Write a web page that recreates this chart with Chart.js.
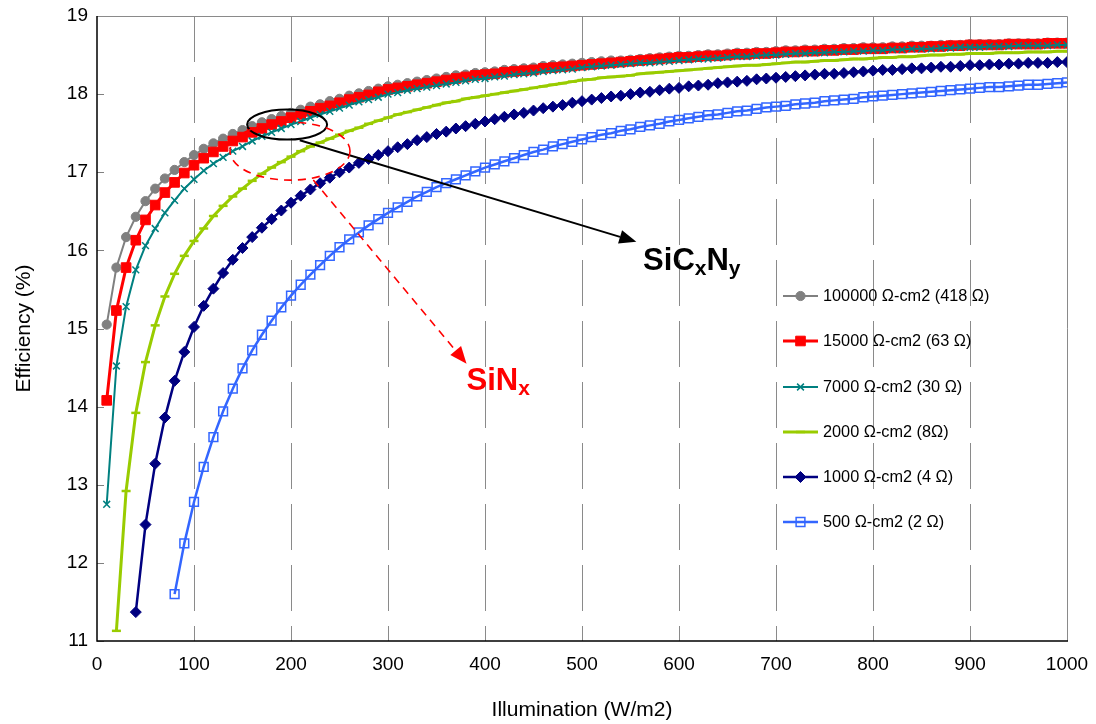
<!DOCTYPE html>
<html>
<head>
<meta charset="utf-8">
<script src="https://cdn.jsdelivr.net/npm/chart.js@4.4.1/dist/chart.umd.min.js"></script>
<style>
  html, body { margin: 0; padding: 0; background: #fff; }
  #wrap { width: 1096px; height: 724px; position: relative; }
</style>
</head>
<body>
<div id="wrap"><canvas id="effChart"></canvas></div>
<script>
// Illumination (W/m2) at which each point is given
const illumination = [
  10, 20, 30, 40, 50, 60, 70, 80, 90, 100,
  110, 120, 130, 140, 150, 160, 170, 180, 190, 200,
  210, 220, 230, 240, 250, 260, 270, 280, 290, 300,
  310, 320, 330, 340, 350, 360, 370, 380, 390, 400,
  410, 420, 430, 440, 450, 460, 470, 480, 490, 500,
  510, 520, 530, 540, 550, 560, 570, 580, 590, 600,
  610, 620, 630, 640, 650, 660, 670, 680, 690, 700,
  710, 720, 730, 740, 750, 760, 770, 780, 790, 800,
  810, 820, 830, 840, 850, 860, 870, 880, 890, 900,
  910, 920, 930, 940, 950, 960, 970, 980, 990, 1000
];

const xTicks = [0, 100, 200, 300, 400, 500, 600, 700, 800, 900, 1000];
const yTicks = [11, 12, 13, 14, 15, 16, 17, 18, 19];

const seriesNames = [
  '100000 \u03A9-cm2 (418 \u03A9)',
  '15000 \u03A9-cm2 (63 \u03A9)',
  '7000 \u03A9-cm2 (30 \u03A9)',
  '2000 \u03A9-cm2 (8\u03A9)',
  '1000 \u03A9-cm2 (4 \u03A9)',
  '500 \u03A9-cm2 (2 \u03A9)'
];

// efficiency (%) - each series ends at 1000 W/m2
const eff100000 = [
  15.05, 15.78, 16.17, 16.43, 16.63, 16.79, 16.92, 17.03, 17.13, 17.22,
  17.30, 17.37, 17.43, 17.49, 17.54, 17.59, 17.64, 17.68, 17.72, 17.76,
  17.80, 17.84, 17.87, 17.91, 17.94, 17.98, 18.01, 18.04, 18.07, 18.10,
  18.12, 18.14, 18.16, 18.18, 18.20, 18.22, 18.24, 18.25, 18.27, 18.28,
  18.29, 18.31, 18.32, 18.33, 18.34, 18.36, 18.37, 18.38, 18.39, 18.40,
  18.41, 18.42, 18.43, 18.43, 18.44, 18.45, 18.46, 18.47, 18.48, 18.49,
  18.49, 18.50, 18.51, 18.51, 18.52, 18.53, 18.53, 18.54, 18.54, 18.55,
  18.56, 18.56, 18.57, 18.57, 18.58, 18.58, 18.59, 18.59, 18.60, 18.60,
  18.60, 18.61, 18.61, 18.62, 18.62, 18.62, 18.63, 18.63, 18.63, 18.64,
  18.64, 18.64, 18.64, 18.65, 18.65, 18.65, 18.65, 18.66, 18.66, 18.66
];
const eff15000 = [
  14.08, 15.23, 15.78, 16.13, 16.39, 16.58, 16.74, 16.87, 16.99, 17.09,
  17.18, 17.26, 17.33, 17.40, 17.45, 17.51, 17.56, 17.61, 17.65, 17.70,
  17.74, 17.78, 17.82, 17.85, 17.89, 17.93, 17.96, 17.99, 18.03, 18.06,
  18.08, 18.10, 18.12, 18.14, 18.16, 18.18, 18.20, 18.22, 18.24, 18.25,
  18.26, 18.28, 18.29, 18.30, 18.31, 18.33, 18.34, 18.35, 18.36, 18.37,
  18.38, 18.39, 18.40, 18.41, 18.42, 18.43, 18.44, 18.45, 18.46, 18.47,
  18.47, 18.48, 18.49, 18.49, 18.50, 18.51, 18.51, 18.52, 18.52, 18.53,
  18.54, 18.54, 18.55, 18.55, 18.56, 18.56, 18.57, 18.57, 18.58, 18.58,
  18.58, 18.59, 18.59, 18.60, 18.60, 18.61, 18.61, 18.62, 18.62, 18.63,
  18.63, 18.63, 18.63, 18.64, 18.64, 18.64, 18.64, 18.65, 18.65, 18.65
];
const eff7000 = [
  12.75, 14.52, 15.28, 15.75, 16.06, 16.28, 16.48, 16.64, 16.79, 16.91,
  17.02, 17.11, 17.19, 17.27, 17.33, 17.40, 17.46, 17.51, 17.56, 17.61,
  17.65, 17.70, 17.74, 17.78, 17.82, 17.86, 17.90, 17.93, 17.96, 18.00,
  18.02, 18.05, 18.07, 18.09, 18.11, 18.13, 18.15, 18.17, 18.19, 18.20,
  18.22, 18.23, 18.25, 18.26, 18.27, 18.29, 18.30, 18.31, 18.32, 18.34,
  18.35, 18.36, 18.37, 18.38, 18.39, 18.40, 18.40, 18.41, 18.42, 18.43,
  18.44, 18.45, 18.45, 18.46, 18.47, 18.48, 18.48, 18.49, 18.50, 18.50,
  18.51, 18.52, 18.52, 18.53, 18.53, 18.54, 18.54, 18.55, 18.55, 18.56,
  18.56, 18.57, 18.57, 18.58, 18.58, 18.58, 18.59, 18.59, 18.60, 18.60,
  18.60, 18.61, 18.61, 18.61, 18.62, 18.62, 18.62, 18.62, 18.63, 18.63
];
// starts at 20 W/m2
const eff2000 = [
         11.13, 12.92, 13.92, 14.57, 15.04, 15.41, 15.70, 15.93, 16.12,
  16.28, 16.44, 16.57, 16.69, 16.79, 16.89, 16.98, 17.06, 17.13, 17.20,
  17.27, 17.33, 17.38, 17.43, 17.48, 17.53, 17.57, 17.62, 17.66, 17.70,
  17.74, 17.77, 17.80, 17.83, 17.86, 17.89, 17.91, 17.94, 17.96, 17.98,
  18.00, 18.02, 18.04, 18.06, 18.08, 18.10, 18.12, 18.14, 18.16, 18.18,
  18.19, 18.21, 18.22, 18.23, 18.24, 18.26, 18.27, 18.28, 18.29, 18.30,
  18.31, 18.32, 18.33, 18.34, 18.35, 18.36, 18.37, 18.37, 18.38, 18.39,
  18.40, 18.41, 18.41, 18.42, 18.43, 18.43, 18.44, 18.45, 18.45, 18.46,
  18.47, 18.47, 18.48, 18.48, 18.49, 18.50, 18.50, 18.51, 18.51, 18.52,
  18.52, 18.52, 18.53, 18.53, 18.53, 18.54, 18.54, 18.54, 18.55, 18.55
];
// starts at 40 W/m2
const eff1000 = [
                       11.37, 12.49, 13.27, 13.86, 14.33, 14.70, 15.02,
  15.29, 15.51, 15.71, 15.88, 16.03, 16.17, 16.29, 16.40, 16.51, 16.61,
  16.70, 16.78, 16.86, 16.93, 17.00, 17.06, 17.12, 17.17, 17.22, 17.27,
  17.32, 17.36, 17.41, 17.45, 17.49, 17.52, 17.56, 17.59, 17.62, 17.65,
  17.68, 17.71, 17.74, 17.76, 17.79, 17.82, 17.84, 17.86, 17.89, 17.91,
  17.93, 17.95, 17.97, 17.98, 18.00, 18.02, 18.03, 18.05, 18.07, 18.08,
  18.10, 18.11, 18.12, 18.14, 18.15, 18.16, 18.17, 18.19, 18.20, 18.21,
  18.22, 18.23, 18.24, 18.25, 18.26, 18.26, 18.27, 18.28, 18.29, 18.30,
  18.31, 18.31, 18.32, 18.33, 18.33, 18.34, 18.35, 18.35, 18.36, 18.37,
  18.37, 18.38, 18.38, 18.39, 18.39, 18.40, 18.40, 18.40, 18.41, 18.41
];
// starts at 80 W/m2
const eff500 = [
                                                   11.60, 12.25, 12.78,
  13.23, 13.61, 13.94, 14.23, 14.49, 14.72, 14.92, 15.10, 15.27, 15.42,
  15.56, 15.69, 15.81, 15.93, 16.04, 16.14, 16.23, 16.32, 16.40, 16.48,
  16.55, 16.62, 16.69, 16.75, 16.81, 16.86, 16.91, 16.96, 17.01, 17.06,
  17.10, 17.14, 17.18, 17.22, 17.26, 17.29, 17.33, 17.36, 17.39, 17.42,
  17.45, 17.48, 17.50, 17.53, 17.55, 17.58, 17.60, 17.62, 17.65, 17.67,
  17.69, 17.71, 17.73, 17.74, 17.76, 17.78, 17.79, 17.81, 17.83, 17.84,
  17.85, 17.87, 17.88, 17.89, 17.91, 17.92, 17.93, 17.94, 17.96, 17.97,
  17.98, 17.99, 18.00, 18.01, 18.02, 18.03, 18.04, 18.05, 18.06, 18.07,
  18.08, 18.09, 18.09, 18.10, 18.11, 18.12, 18.12, 18.13, 18.14, 18.15
];

const FONT = '"Liberation Sans", Arial, sans-serif';

// pair values with illumination, aligned at the right end
function toPoints(values) {
  const off = illumination.length - values.length;
  return values.map((v, i) => ({ x: illumination[off + i], y: v }));
}

const styles = [
  { color: '#808080', fill: '#808080', pointStyle: 'circle',   radius: 4.6, lineWidth: 2,   pointBorder: 1 },
  { color: '#FF0000', fill: '#FF0000', pointStyle: 'rect',     radius: 6.8, lineWidth: 3,   pointBorder: 1 },
  { color: '#008080', fill: '#008080', pointStyle: 'crossRot', radius: 4.8, lineWidth: 2,   pointBorder: 1.5 },
  { color: '#99CC00', fill: '#99CC00', pointStyle: 'line',     radius: 4.5, lineWidth: 3,   pointBorder: 2.5 },
  { color: '#000080', fill: '#000080', pointStyle: 'rectRot',  radius: 5.5, lineWidth: 2.5, pointBorder: 1 },
  { color: '#3366FF', fill: 'rgba(0,0,0,0)', pointStyle: 'rect', radius: 6.2, lineWidth: 2.5, pointBorder: 1.5 }
];
const seriesValues = [eff100000, eff15000, eff7000, eff2000, eff1000, eff500];

const datasets = seriesValues.map((vals, i) => ({
  label: seriesNames[i],
  data: toPoints(vals),
  borderColor: styles[i].color,
  backgroundColor: styles[i].color,
  borderWidth: styles[i].lineWidth,
  pointStyle: styles[i].pointStyle,
  pointRadius: styles[i].radius,
  pointBackgroundColor: styles[i].fill,
  pointBorderColor: styles[i].color,
  pointBorderWidth: styles[i].pointBorder,
  tension: 0,
  order: 6 - i
}));

// annotation anchors, in data units
const blackEllipse = { x: 196, y: 17.61 };
const blackArrow = { x1: 209, y1: 17.41, x2: 556, y2: 16.11 };
const blackLabel = { x: 563, y: 15.75 };
const redEllipse = { x: 199, y: 17.27 };
const redArrow = { x1: 223, y1: 16.90, x2: 381, y2: 14.55 };
const redLabel = { x: 381, y: 14.21 };

function arrow(ctx, x1, y1, x2, y2, color, dash) {
  const ang = Math.atan2(y2 - y1, x2 - x1);
  const len = 17, half = 7;
  const bx = x2 - len * Math.cos(ang), by = y2 - len * Math.sin(ang);
  ctx.strokeStyle = color;
  ctx.fillStyle = color;
  ctx.setLineDash(dash);
  ctx.beginPath();
  ctx.moveTo(x1, y1);
  ctx.lineTo(bx, by);
  ctx.stroke();
  ctx.setLineDash([]);
  ctx.beginPath();
  ctx.moveTo(x2, y2);
  ctx.lineTo(bx + half * Math.sin(ang), by - half * Math.cos(ang));
  ctx.lineTo(bx - half * Math.sin(ang), by + half * Math.cos(ang));
  ctx.closePath();
  ctx.fill();
}

function subText(ctx, parts, x, y, color) {
  ctx.fillStyle = color;
  ctx.textAlign = 'left';
  ctx.textBaseline = 'alphabetic';
  let cx = x;
  parts.forEach(([txt, sub]) => {
    ctx.font = sub ? 'bold 21px ' + FONT : 'bold 31px ' + FONT;
    ctx.fillText(txt, cx, sub ? y + 5 : y);
    cx += ctx.measureText(txt).width;
  });
}

const decor = {
  id: 'decor',
  beforeDatasetsDraw(chart) {
    const { ctx, chartArea: a, scales: { x, y } } = chart;
    ctx.save();
    // dashed vertical grid
    ctx.strokeStyle = '#8a8a8a';
    ctx.lineWidth = 1;
    ctx.setLineDash([46, 15]);
    xTicks.forEach(v => {
      if (v <= 0 || v >= 1000) return;
      const px = Math.round(x.getPixelForValue(v)) + 0.5;
      ctx.beginPath();
      ctx.moveTo(px, a.top);
      ctx.lineTo(px, a.bottom);
      ctx.stroke();
    });
    ctx.setLineDash([]);
    // inward ticks
    ctx.strokeStyle = '#808080';
    yTicks.forEach(v => {
      const py = Math.round(y.getPixelForValue(v)) + 0.5;
      ctx.beginPath();
      ctx.moveTo(a.left, py);
      ctx.lineTo(a.left + 7, py);
      ctx.stroke();
    });
    // frame
    ctx.strokeStyle = '#8a8a8a';
    ctx.beginPath();
    ctx.moveTo(a.left, a.top + 0.5);
    ctx.lineTo(a.right + 0.5, a.top + 0.5);
    ctx.lineTo(a.right + 0.5, a.bottom);
    ctx.stroke();
    ctx.strokeStyle = '#000';
    ctx.lineWidth = 1.5;
    ctx.beginPath();
    ctx.moveTo(a.left, a.top);
    ctx.lineTo(a.left, a.bottom);
    ctx.lineTo(a.right + 1, a.bottom);
    ctx.stroke();
    ctx.restore();
  },
  afterDraw(chart) {
    const { ctx, scales: { x, y } } = chart;
    const X = v => x.getPixelForValue(v), Y = v => y.getPixelForValue(v);
    ctx.save();

    // SiCxNy
    ctx.strokeStyle = '#000';
    ctx.lineWidth = 2;
    ctx.beginPath();
    ctx.ellipse(X(blackEllipse.x), Y(blackEllipse.y), 40, 15, 0, 0, Math.PI * 2);
    ctx.stroke();
    arrow(ctx, X(blackArrow.x1), Y(blackArrow.y1), X(blackArrow.x2), Y(blackArrow.y2), '#000', []);
    subText(ctx, [['SiC', false], ['x', true], ['N', false], ['y', true]], X(blackLabel.x), Y(blackLabel.y), '#000');

    // SiNx
    ctx.strokeStyle = '#FF0000';
    ctx.lineWidth = 1.6;
    ctx.setLineDash([8, 6]);
    ctx.beginPath();
    ctx.ellipse(X(redEllipse.x), Y(redEllipse.y), 60, 29, 0, 0, Math.PI * 2);
    ctx.stroke();
    arrow(ctx, X(redArrow.x1), Y(redArrow.y1), X(redArrow.x2), Y(redArrow.y2), '#FF0000', [8, 6]);
    subText(ctx, [['SiN', false], ['x', true]], X(redLabel.x), Y(redLabel.y), '#FF0000');

    // legend
    const legendY = [296, 341, 387, 432, 477, 522];
    chart.data.datasets.forEach((ds, i) => {
      const ly = legendY[i];
      ctx.setLineDash([]);
      ctx.strokeStyle = ds.borderColor;
      ctx.lineWidth = ds.borderWidth;
      ctx.beginPath();
      ctx.moveTo(783, ly);
      ctx.lineTo(818, ly);
      ctx.stroke();
      ctx.fillStyle = ds.pointBackgroundColor;
      ctx.lineWidth = ds.pointBorderWidth;
      Chart.helpers.drawPoint(ctx, {
        pointStyle: ds.pointStyle, radius: ds.pointRadius, rotation: 0, borderWidth: ds.pointBorderWidth
      }, 800.5, ly);
      ctx.fillStyle = '#000';
      ctx.font = '16.3px ' + FONT;
      ctx.textAlign = 'left';
      ctx.textBaseline = 'middle';
      ctx.fillText(ds.label, 823, ly + 1);
    });
    ctx.restore();
  }
};

new Chart(document.getElementById('effChart'), {
  type: 'line',
  data: { datasets },
  options: {
    responsive: true,
    maintainAspectRatio: false,
    animation: false,
    layout: { padding: { left: 0, right: 29, top: 16, bottom: 0 } },
    plugins: { legend: { display: false }, tooltip: { enabled: false } },
    scales: {
      x: {
        type: 'linear',
        min: 0, max: 1000,
        afterFit: s => { s.height = 83; s.paddingLeft = 0; s.paddingRight = 0; },
        ticks: { stepSize: 100, color: '#000', font: { family: FONT, size: 19 }, padding: 4, maxRotation: 0,
                 callback: v => String(v) },
        grid: { display: false },
        border: { display: false },
        title: { display: true, text: 'Illumination (W/m2)', color: '#000', font: { family: FONT, size: 21 }, padding: { top: 0, bottom: 1 } }
      },
      y: {
        min: 11, max: 19,
        afterFit: s => { s.width = 97; s.paddingTop = 0; s.paddingBottom = 0; },
        ticks: { stepSize: 1, color: '#000', font: { family: FONT, size: 19 }, padding: 1 },
        grid: { display: false },
        border: { display: false },
        title: { display: true, text: 'Efficiency (%)', color: '#000', font: { family: FONT, size: 21 }, padding: { top: 12, bottom: 0 } }
      }
    }
  },
  plugins: [decor]
});
</script>
</body>
</html>
